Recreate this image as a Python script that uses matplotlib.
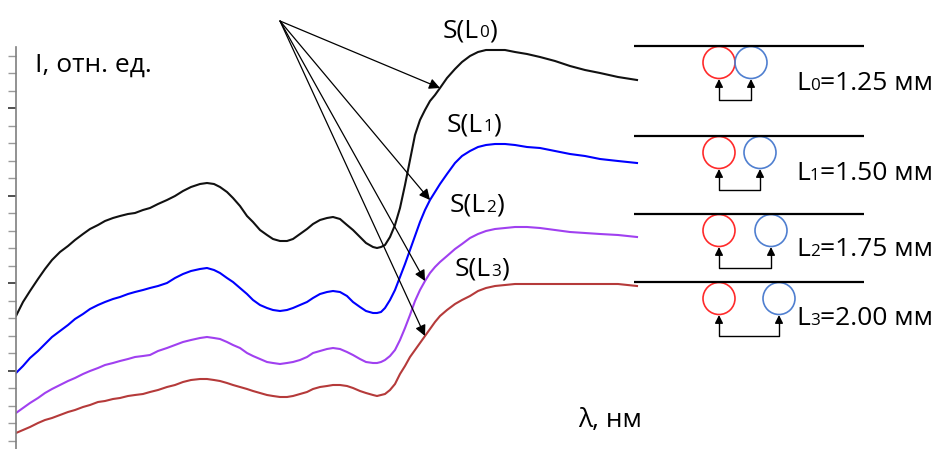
import numpy as np
import matplotlib
matplotlib.use("Agg")
import matplotlib.pyplot as plt
from matplotlib.patches import Circle

plt.rcParams['font.family'] = ['Open Sans', 'DejaVu Sans']

# ---------------- data (arbitrary units) ----------------
wavelength = [0, 7, 14, 22, 29, 36, 44, 52, 59, 67,
              74, 82, 89, 97, 104, 112, 119, 127, 134, 142,
              151, 159, 167, 175, 184, 191, 198, 204, 211, 217,
              224, 231, 237, 244, 251, 257, 264, 271, 277, 284,
              291, 297, 304, 311, 317, 324, 331, 337, 344, 350,
              357, 361, 365, 369, 374, 379, 384, 389, 394, 399,
              404, 409, 414, 419, 424, 431, 439, 446, 454, 462,
              470, 479, 489, 499, 511, 524, 539, 554, 569, 584,
              602, 621]

S_L0 = [133, 147, 158, 170, 180, 189, 197, 203, 209, 215,
        220, 224, 228, 231, 233, 235, 236, 239, 241, 245,
        249, 253, 258, 262, 265, 266, 265, 262, 257, 251,
        243, 233, 227, 219, 214, 210, 208, 208, 210, 215,
        220, 225, 229, 231, 232, 230, 224, 219, 212, 206,
        202, 201, 202, 204, 212, 224, 241, 264, 289, 314,
        329, 339, 348, 354, 361, 371, 380, 387, 393, 397,
        399, 399, 399, 397, 395, 392, 388, 383, 379, 376,
        372, 369]

S_L1 = [76, 83, 91, 98, 105, 112, 118, 124, 130, 135,
        140, 144, 147, 150, 152, 155, 157, 159, 161, 163,
        166, 171, 175, 178, 180, 181, 179, 176, 171, 167,
        161, 155, 149, 144, 141, 139, 138, 139, 141, 144,
        147, 151, 155, 157, 158, 157, 153, 147, 142, 138,
        136, 136, 137, 141, 149, 159, 172, 185, 199, 213,
        227, 239, 249, 257, 265, 275, 286, 293, 298, 302,
        304, 305, 305, 304, 302, 301, 298, 295, 293, 290,
        288, 286]

S_L2 = [36, 41, 46, 51, 56, 60, 64, 68, 71, 75,
        78, 81, 84, 86, 88, 90, 92, 93, 94, 98,
        101, 104, 107, 109, 111, 112, 111, 110, 107, 104,
        101, 96, 93, 90, 87, 86, 85, 86, 87, 89,
        92, 96, 98, 100, 101, 100, 97, 94, 90, 87,
        86, 86, 87, 89, 93, 99, 109, 121, 134, 148,
        159, 168, 176, 182, 187, 193, 200, 205, 211, 215,
        218, 220, 221, 222, 222, 221, 219, 217, 216, 215,
        214, 212]

S_L3 = [16, 19, 22, 26, 29, 31, 34, 37, 39, 42,
        44, 47, 48, 50, 51, 53, 54, 55, 57, 59,
        62, 64, 67, 69, 70, 70, 69, 68, 66, 64,
        62, 60, 58, 56, 54, 53, 52, 52, 53, 55,
        57, 60, 62, 63, 64, 64, 63, 61, 58, 56,
        54, 53, 54, 55, 59, 65, 75, 83, 92, 99,
        106, 113, 120, 127, 133, 139, 145, 149, 153, 158,
        161, 163, 164, 165, 165, 165, 165, 165, 165, 165,
        165, 163]

series_labels = ['0', '1', '2', '3']
distances = ['1.25', '1.50', '1.75', '2.00']
series = [S_L0, S_L1, S_L2, S_L3]
colors = ['#111111', '#0000ff', '#a040f0', '#b53a3a']
arrow_idx = [64, 62, 61, 61]

y_label = 'I, отн. ед.'
x_label = 'λ, нм'

# ---------------- figure ----------------
W, H = 940, 449
fig = plt.figure(figsize=(W / 100, H / 100), dpi=100)
ax = fig.add_axes([16 / W, 0, (W - 16) / W, 1])
ax.set_xlim(0, W - 16)
ax.set_ylim(0, H)
for s in ['top', 'right', 'bottom']:
    ax.spines[s].set_visible(False)
ax.spines['left'].set_color('#7f7f7f')
ax.spines['left'].set_linewidth(1.2)
ax.spines['left'].set_bounds(0, 402)
ticks = 8.3 + 17.5 * np.arange(23)
ax.set_yticks(ticks[4::5])
ax.set_yticks(ticks, minor=True)
ax.set_yticklabels([])
ax.tick_params(axis='y', which='major', length=6, width=1.4, color='#505050')
ax.tick_params(axis='y', which='minor', length=6, width=1.0, color='#9a9a9a')
ax.set_xticks([])

for ys, c in zip(series, colors):
    ax.plot(wavelength, ys, color=c, lw=1.5, solid_joinstyle='round')

# arrows from common origin to each curve
origin = (264, 428)
for ys, i in zip(series, arrow_idx):
    ax.annotate('', xy=(wavelength[i], ys[i]), xytext=origin,
                arrowprops=dict(arrowstyle='-|>', color='black', lw=0.9,
                                mutation_scale=16, shrinkA=0, shrinkB=0))

# ---------------- overlay in pixel coordinates ----------------
ov = fig.add_axes([0, 0, 1, 1])
ov.set_xlim(0, W)
ov.set_ylim(H, 0)
ov.axis('off')
ov.patch.set_alpha(0)

FS = 19
fig.canvas.draw()
renderer = fig.canvas.get_renderer()


def rich(x, y, parts, size=FS):
    cur = x
    for txt, sc in parts:
        t = ov.text(cur, y, txt, fontsize=size * sc, ha='left', va='baseline')
        bb = t.get_window_extent(renderer=renderer)
        cur += bb.width


rich(35, 71.5, [(y_label, 1)])
rich(578, 426.5, [(x_label, 1)])

S_pos = [(443, 37), (447, 131), (450, 211.5), (455, 276)]
for (x, y), lab in zip(S_pos, series_labels):
    rich(x, y, [('S(L', 1), (lab, 0.65), (')', 1)])

# right-hand diagram
line_y = [46, 136, 214, 282]
red_x = [719, 719, 719, 719]
blue_x = [751, 760, 771, 779]
R = 16
text_base = [90, 180, 256.5, 325]
for k in range(4):
    ov.plot([634, 864], [line_y[k], line_y[k]], color='black', lw=1.6, solid_capstyle='butt')
    cy = line_y[k] + R + 0.5
    ov.add_patch(Circle((red_x[k], cy), R, fill=False, ec='#ff2a2a', lw=1.2))
    ov.add_patch(Circle((blue_x[k], cy), R, fill=False, ec='#4f7fd0', lw=1.2))
    bottom = cy + R
    low = bottom + 21
    ov.plot([red_x[k], red_x[k], blue_x[k], blue_x[k]], [bottom + 8, low, low, bottom + 8],
            color='black', lw=1.0)
    for xx in (red_x[k], blue_x[k]):
        ov.annotate('', xy=(xx, bottom + 0.5), xytext=(xx, bottom + 9),
                    arrowprops=dict(arrowstyle='-|>', color='black', lw=1.0,
                                    mutation_scale=12, shrinkA=0, shrinkB=0))
    rich(796, text_base[k], [('L', 1), (series_labels[k], 0.65), ('=' + distances[k] + ' мм', 1)])

fig.savefig('out.png', dpi=100)
